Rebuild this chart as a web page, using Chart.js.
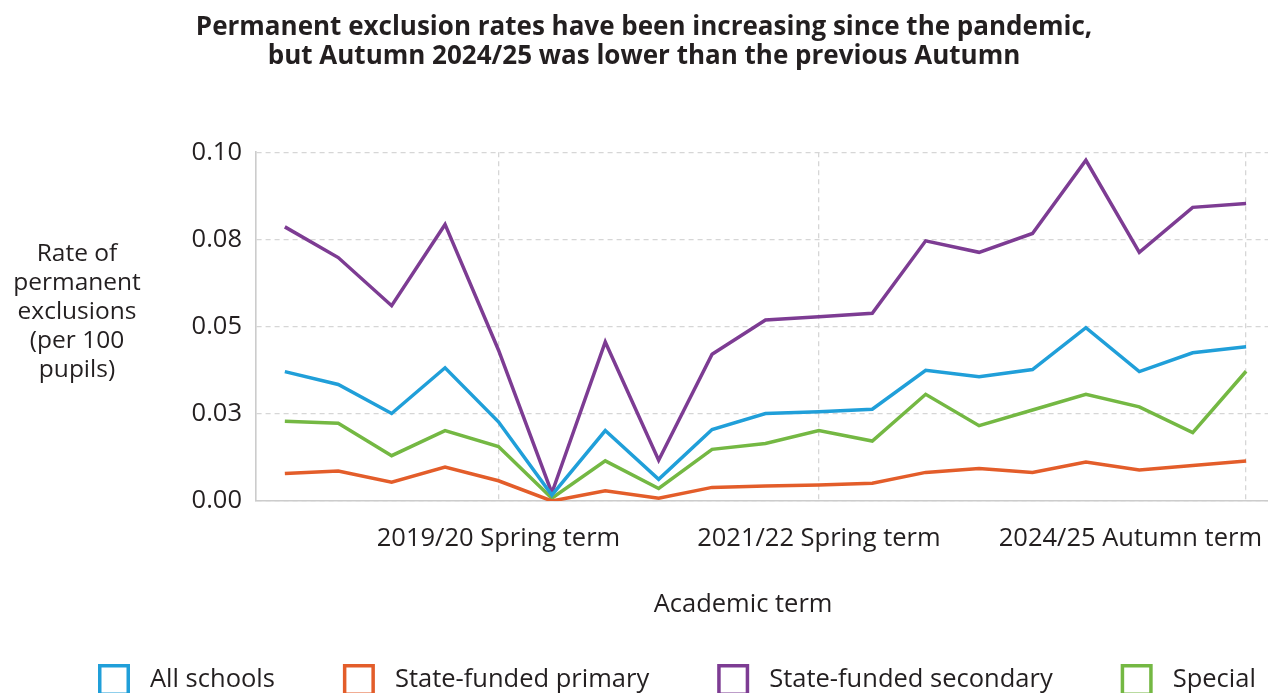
<!DOCTYPE html>
<html>
<head>
<meta charset="utf-8">
<title>Permanent exclusion rates</title>
<script src="https://cdn.jsdelivr.net/npm/chart.js@4.4.1/dist/chart.umd.min.js"></script>
<style>
  html, body { margin: 0; padding: 0; background: #ffffff; overflow: hidden; }
  #wrap { width: 1268px; height: 693px; }
</style>
</head>
<body>
<div id="wrap"><canvas id="chart" width="1268" height="693"></canvas></div>
<script>
// Academic terms, oldest first
const terms = [
  '2018/19 Autumn term', '2018/19 Spring term', '2018/19 Summer term',
  '2019/20 Autumn term', '2019/20 Spring term', '2019/20 Summer term',
  '2020/21 Autumn term', '2020/21 Spring term', '2020/21 Summer term',
  '2021/22 Autumn term', '2021/22 Spring term', '2021/22 Summer term',
  '2022/23 Autumn term', '2022/23 Spring term', '2022/23 Summer term',
  '2023/24 Autumn term', '2023/24 Spring term', '2023/24 Summer term',
  '2024/25 Autumn term'
];

// Permanent exclusions per 100 pupils
const allSchools = [0.0371, 0.0334, 0.0251, 0.0382, 0.0227, 0.0017, 0.0202, 0.0062, 0.0205, 0.0251,
                    0.0256, 0.0263, 0.0375, 0.0356, 0.0377, 0.0497, 0.0371, 0.0425, 0.0442];
const stateFundedPrimary = [0.0079, 0.0086, 0.0054, 0.0097, 0.0058, 0.0000, 0.0029, 0.0008, 0.0039, 0.0043,
                            0.0046, 0.0051, 0.0082, 0.0093, 0.0082, 0.0112, 0.0089, 0.0102, 0.0115];
const stateFundedSecondary = [0.0786, 0.0698, 0.0560, 0.0793, 0.0433, 0.0023, 0.0456, 0.0117, 0.0421, 0.0519,
                              0.0528, 0.0538, 0.0746, 0.0713, 0.0767, 0.0977, 0.0713, 0.0842, 0.0853];
const special = [0.0229, 0.0223, 0.0130, 0.0202, 0.0156, 0.0008, 0.0115, 0.0036, 0.0148, 0.0165,
                 0.0202, 0.0172, 0.0306, 0.0216, 0.0261, 0.0306, 0.0270, 0.0196, 0.0372];

// Axis labelling
const shownTermIndexes = [4, 10, 18];
const yTickLabels = ['0.00', '0.03', '0.05', '0.08', '0.10'];
const yTitleLines = ['Rate of', 'permanent', 'exclusions', '(per 100', 'pupils)'];
const xTitle = 'Academic term';
const titleLines = [
  'Permanent exclusion rates have been increasing since the pandemic,',
  'but Autumn 2024/25 was lower than the previous Autumn'
];

const seriesNames = ['All schools', 'State-funded primary', 'State-funded secondary', 'Special'];
const seriesValues = [allSchools, stateFundedPrimary, stateFundedSecondary, special];
const seriesColours = ['#209fd9', '#e35d2a', '#7d3c93', '#74b843'];

const TEXT = '#231f20';
const FONT = '"Open Sans", Lato, sans-serif';

const toPoints = vals => vals.map((v, i) => ({ x: i, y: v }));

// Term labels under the x axis; the last one is kept inside the canvas
const termLabels = {
  id: 'termLabels',
  afterDraw(chart) {
    const xs = chart.scales.x;
    const area = chart.chartArea;
    const ctx = chart.ctx;
    ctx.save();
    ctx.font = '25.5px ' + FONT;
    ctx.fillStyle = TEXT;
    ctx.textBaseline = 'middle';
    ctx.textAlign = 'left';
    xs.ticks.forEach(t => {
      const label = terms[t.value];
      const w = ctx.measureText(label).width;
      let x = xs.getPixelForValue(t.value) - w / 2;
      x = Math.min(x, chart.width - 6 - w);
      ctx.fillText(label, x, area.bottom + 38);
    });
    // axis title
    ctx.textAlign = 'center';
    const mid = (area.left + xs.getPixelForValue(terms.length - 1)) / 2 - 8;
    ctx.fillText(xTitle, mid, area.bottom + 104);
    ctx.restore();
  }
};

// Horizontal, multi-line y axis title
const yTitle = {
  id: 'yTitle',
  afterDraw(chart) {
    const area = chart.chartArea;
    const ctx = chart.ctx;
    ctx.save();
    ctx.font = '24.5px ' + FONT;
    ctx.fillStyle = TEXT;
    ctx.textAlign = 'center';
    ctx.textBaseline = 'middle';
    const lineH = 29;
    const firstY = area.top + 102;
    yTitleLines.forEach((line, i) => ctx.fillText(line, 77, firstY + i * lineH));
    ctx.restore();
  }
};

// Legend row with outlined squares along the bottom edge
const outlinedLegend = {
  id: 'outlinedLegend',
  afterDraw(chart) {
    const ctx = chart.ctx;
    ctx.save();
    ctx.font = '25.5px ' + FONT;
    ctx.textBaseline = 'middle';
    ctx.textAlign = 'left';
    const box = 32, stroke = 3.5, gapText = 20, gapItem = 68;
    const top = chart.height - 29;
    let x = 98;
    chart.data.datasets.forEach(ds => {
      ctx.fillStyle = '#ffffff';
      ctx.strokeStyle = ds.borderColor;
      ctx.lineWidth = stroke;
      ctx.beginPath();
      ctx.rect(x + stroke / 2, top + stroke / 2, box - stroke, box - stroke);
      ctx.fill();
      ctx.stroke();
      const tx = x + box + gapText;
      ctx.fillStyle = TEXT;
      ctx.fillText(ds.label, tx, top + 16);
      x = tx + ctx.measureText(ds.label).width + gapItem;
    });
    ctx.restore();
  }
};

const gridColour = '#d6d6d6';
const axisColour = '#cccccc';

new Chart(document.getElementById('chart'), {
  type: 'line',
  data: {
    datasets: seriesNames.map((name, i) => ({
      label: name,
      data: toPoints(seriesValues[i]),
      borderColor: seriesColours[i],
      backgroundColor: seriesColours[i],
      borderWidth: 3.5,
      pointRadius: 0,
      pointHoverRadius: 0,
      tension: 0,
      fill: false
    }))
  },
  options: {
    responsive: false,
    animation: false,
    events: [],
    layout: { padding: { left: 20, right: 0, top: 0, bottom: 172 } },
    plugins: {
      legend: { display: false },
      tooltip: { enabled: false },
      title: {
        display: true,
        text: titleLines,
        color: TEXT,
        font: { family: FONT, size: 26, weight: 'bold', lineHeight: 1.12 },
        padding: { top: 13, bottom: 81 }
      }
    },
    scales: {
      x: {
        type: 'linear',
        min: -0.54,
        max: 18.41,
        afterBuildTicks: axis => { axis.ticks = shownTermIndexes.map(v => ({ value: v })); },
        afterFit: scale => { scale.height = 20; },
        ticks: { display: false },
        grid: { color: gridColour, lineWidth: 1.3, drawTicks: false },
        border: { display: true, color: axisColour, width: 1.6, dash: [5, 4] }
      },
      y: {
        min: 0,
        max: 0.1,
        afterFit: scale => { scale.width = 236; },
        ticks: {
          stepSize: 0.025,
          padding: 14,
          color: TEXT,
          font: { family: FONT, size: 25.5 },
          callback: (value, index) => yTickLabels[index]
        },
        grid: { color: gridColour, lineWidth: 1.3, drawTicks: false },
        border: { display: true, color: axisColour, width: 1.6, dash: [5, 4] }
      }
    }
  },
  plugins: [termLabels, yTitle, outlinedLegend]
});
</script>
</body>
</html>
